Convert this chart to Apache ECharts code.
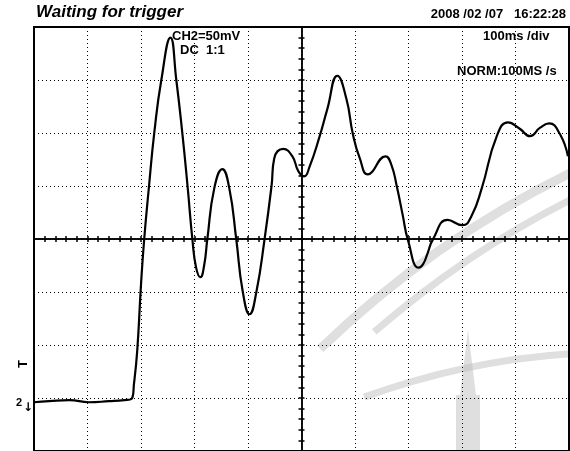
<!DOCTYPE html>
<html>
<head>
<meta charset="utf-8">
<script src="https://cdn.jsdelivr.net/npm/echarts@6/dist/echarts.min.js"></script>
<style>
  html, body { margin: 0; padding: 0; background: #fff; }
  #chart { width: 570px; height: 451px; }
</style>
</head>
<body>
<div id="chart"></div>
<script>
// Time (ms, relative to trigger / screen centre), 100 ms/div
var times = [-500, -472, -434, -397, -360, -331, -318, -313, -307, -300, -294, -285, -275, -262, -245,
  -234, -223, -213, -204, -197, -189, -182, -176, -163, -148, -135, -122, -110, -97, -84, -69, -56,
  -51, -34, -17, -6, 5, 15, 34, 48, 67, 84, 96, 109, 124, 157, 168, 178, 189, 199, 219, 227, 236, 245,
  273, 301, 318, 337, 365, 386, 408, 427, 446, 463, 483, 498];
// CH2 voltage (mV, relative to screen centre), 50 mV/div
var volts = [-154, -153, -152, -154, -153, -152, -151, -136, -105, -43, 0, 50, 101, 150, 190,
  150, 101, 50, 0, -27, -36, -25, 0, 48, 66, 48, 0, -49, -71, -49, 0, 50,
  76, 85, 78, 64, 59, 68, 97, 122, 154, 132, 99, 76, 61, 78, 70, 50, 23, -1, -27, -24, -13, -1,
  18, 13, 22, 48, 97, 110, 104, 97, 105, 109, 99, 78];

var headerLeft = 'Waiting for trigger';
var headerRight = '2008 /02 /07   16:22:28';
var chLabel = 'CH2=50mV';
var couplingLabel = 'DC  1:1';
var timebaseLabel = '100ms /div';
var modeLabel = 'NORM:100MS /s';

var chart = echarts.init(document.getElementById('chart'), null, { renderer: 'canvas' });

var dotted = { show: true, lineStyle: { color: '#000', width: 1, type: [1, 3] } };
function xAx(pos) {
  return {
    type: 'value', min: -500, max: 500, interval: 100, position: pos,
    axisLine: { show: true, onZero: true, lineStyle: { color: '#000', width: 1.5 } },
    axisTick: { show: true, length: 3, lineStyle: { color: '#000', width: 1.5 } },
    minorTick: { show: true, splitNumber: 5, length: 3, lineStyle: { color: '#000', width: 1.5 } },
    axisLabel: { show: false },
    splitLine: pos === 'bottom' ? dotted : { show: false },
    minorSplitLine: { show: false }
  };
}
function yAx(pos) {
  return {
    type: 'value', min: -200, max: 200, interval: 50, position: pos,
    axisLine: { show: true, onZero: true, lineStyle: { color: '#000', width: 1.5 } },
    axisTick: { show: true, length: 3, lineStyle: { color: '#000', width: 1.5 } },
    minorTick: { show: true, splitNumber: 5, length: 3, lineStyle: { color: '#000', width: 1.5 } },
    axisLabel: { show: false },
    splitLine: pos === 'left' ? dotted : { show: false }
  };
}

var wm = 'rgba(185,185,185,0.45)';
var deg = Math.PI / 180;
var txtFont = 'bold 13px "Liberation Sans", Arial, sans-serif';

chart.setOption({
  animation: false,
  backgroundColor: '#fff',
  grid: { left: 34, top: 27, width: 535, height: 428, show: true, borderColor: '#000', borderWidth: 2 },
  xAxis: [xAx('bottom'), xAx('top')],
  yAxis: [yAx('left'), yAx('right')],
  series: [{
    type: 'line',
    data: times.map(function (t, i) { return [t, volts[i]]; }),
    smooth: 0.5,
    showSymbol: false,
    symbol: 'none',
    lineStyle: { color: '#000', width: 2.2 },
    z: 5
  }],
  graphic: [
    // faint watermark (seal) in the lower right
    { type: 'arc', z: -10, shape: { cx: 1008, cy: 1061, r: 990, startAngle: 226 * deg, endAngle: 247 * deg },
      style: { stroke: wm, lineWidth: 9, fill: null } },
    { type: 'arc', z: -10, shape: { cx: 1008, cy: 1061, r: 966, startAngle: 229 * deg, endAngle: 247 * deg },
      style: { stroke: wm, lineWidth: 7, fill: null } },
    { type: 'arc', z: -10, shape: { cx: 620, cy: 1100, r: 748, startAngle: 250 * deg, endAngle: 268 * deg },
      style: { stroke: wm, lineWidth: 7, fill: null } },
    { type: 'rect', z: -10, shape: { x: 456, y: 395, width: 24, height: 60 },
      style: { fill: wm } },
    { type: 'polygon', z: -10, shape: { points: [[460, 395], [468, 330], [476, 395]] },
      style: { fill: wm } },
    { type: 'text', left: 36, top: 4,
      style: { text: headerLeft, font: 'italic bold 17px "Liberation Sans", Arial, sans-serif', fill: '#000' } },
    { type: 'text', right: 4, top: 8,
      style: { text: headerRight, font: txtFont, fill: '#000' } },
    { type: 'text', left: 172, top: 30,
      style: { text: chLabel, font: txtFont, fill: '#000' } },
    { type: 'text', left: 180, top: 44,
      style: { text: couplingLabel, font: txtFont, fill: '#000' } },
    { type: 'text', left: 483, top: 30,
      style: { text: timebaseLabel, font: txtFont, fill: '#000' } },
    { type: 'text', left: 457, top: 65,
      style: { text: modeLabel, font: txtFont, fill: '#000' } },
    { type: 'text', left: 17, top: 360, rotation: Math.PI / 2,
      style: { text: 'T', font: 'bold 13px "Liberation Sans", sans-serif', fill: '#000' } },
    { type: 'text', left: 16, top: 397,
      style: { text: '2', font: 'bold 11px "Liberation Sans", sans-serif', fill: '#000' } },
    { type: 'text', left: 23, top: 402,
      style: { text: '\u2193', font: 'bold 12px "DejaVu Sans", sans-serif', fill: '#000' } }
  ]
});
</script>
</body>
</html>
